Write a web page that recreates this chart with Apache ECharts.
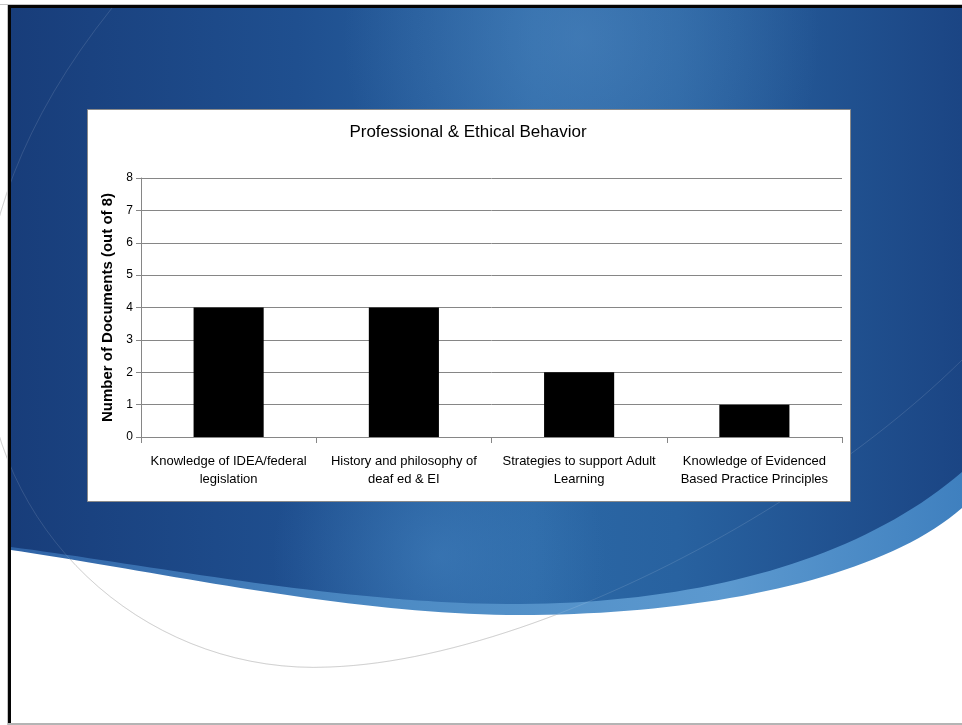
<!DOCTYPE html>
<html>
<head>
<meta charset="utf-8">
<title>Professional &amp; Ethical Behavior</title>
<script src="https://cdn.jsdelivr.net/npm/echarts@6/dist/echarts.min.js"></script>
<style>
  html, body { margin: 0; padding: 0; background: #ffffff; }
  #chart { width: 962px; height: 725px; }
</style>
</head>
<body>
<div id="chart"></div>
<script>
// Chart content
const chartTitle = 'Professional & Ethical Behavior';
const yAxisTitle = 'Number of Documents (out of 8)';
const categories = [
  'Knowledge of IDEA/federal\nlegislation',
  'History and philosophy of\ndeaf ed & EI',
  'Strategies to support Adult\nLearning',
  'Knowledge of Evidenced\nBased Practice Principles'
];
const documentCounts = [4, 4, 2, 1];
const yTicks = { min: 0, max: 8, step: 1 };

const FONT = '"Liberation Sans", Arial, sans-serif';

// Sample a cubic bezier into a list of points for polygon outlines
function cubic(p0, p1, p2, p3, n) {
  const pts = [];
  for (let i = 0; i <= n; i++) {
    const t = i / n, u = 1 - t;
    pts.push([
      u * u * u * p0[0] + 3 * u * u * t * p1[0] + 3 * u * t * t * p2[0] + t * t * t * p3[0],
      u * u * u * p0[1] + 3 * u * u * t * p1[1] + 3 * u * t * t * p2[1] + t * t * t * p3[1]
    ]);
  }
  return pts;
}
function chain(segs) {
  let out = [];
  segs.forEach((s, i) => { out = out.concat(i ? s.slice(1) : s); });
  return out;
}

// Slide backdrop: swoosh edges (left to right)
const bandLower = chain([
  cubic([11, 550], [150, 570], [350, 615], [520, 615], 40),
  cubic([520, 615], [700, 615], [880, 580], [962, 508], 40)
]);
const bandUpper = chain([
  cubic([11, 547], [150, 565], [350, 605], [520, 604], 40),
  cubic([520, 604], [700, 603], [860, 560], [962, 472], 40)
]);
const bandShape = [[11, 8], [962, 8]].concat(bandLower.slice().reverse());
const darkShape = [[11, 8], [962, 8]].concat(bandUpper.slice().reverse());

// Thin decorative loop crossing the slide
const loopLine = chain([
  cubic([112, 8], [-170, 360], [60, 680], [330, 667], 50),
  cubic([330, 667], [520, 660], [800, 520], [962, 360], 50)
]);

const LG = echarts.graphic.LinearGradient;
const RG = echarts.graphic.RadialGradient;

const chart = echarts.init(document.getElementById('chart'), null, { renderer: 'canvas' });

chart.setOption({
  animation: false,
  backgroundColor: '#ffffff',
  graphic: {
    elements: [
      // faint loop on the white part
      { type: 'polyline', shape: { points: loopLine }, style: { stroke: 'rgba(150,150,150,0.5)', lineWidth: 1, fill: null } },
      // light blue lower band of the swoosh
      {
        type: 'polygon', shape: { points: bandShape },
        style: { fill: new LG(0, 0, 1, 0, [
          { offset: 0, color: '#2f63a6' },
          { offset: 0.4, color: '#4d8bc4' },
          { offset: 0.75, color: '#5c99cf' },
          { offset: 1, color: '#3f80bf' }
        ]) }
      },
      // main dark blue field
      {
        type: 'polygon', shape: { points: darkShape },
        style: { fill: new LG(0, 0, 1, 0, [
          { offset: 0, color: '#183d7a' },
          { offset: 0.3, color: '#1f4f8f' },
          { offset: 0.55, color: '#2b67a5' },
          { offset: 0.7, color: '#2862a0' },
          { offset: 1, color: '#1b4584' }
        ]) }
      },
      // soft highlights inside the blue field
      {
        type: 'polygon', shape: { points: darkShape },
        style: { fill: new RG(0.6, 0.05, 0.4, [
          { offset: 0, color: 'rgba(95,150,205,0.4)' },
          { offset: 1, color: 'rgba(95,150,205,0)' }
        ]) }
      },
      {
        type: 'polygon', shape: { points: darkShape },
        style: { fill: new RG(0.45, 0.92, 0.28, [
          { offset: 0, color: 'rgba(90,160,220,0.32)' },
          { offset: 1, color: 'rgba(90,160,220,0)' }
        ]) }
      },
      // loop seen through the blue
      { type: 'polyline', shape: { points: loopLine }, style: { stroke: 'rgba(255,255,255,0.12)', lineWidth: 1, fill: null } },
      // slide frame
      { type: 'rect', shape: { x: 0, y: 4, width: 962, height: 1 }, style: { fill: '#c4c4c4' } },
      { type: 'rect', shape: { x: 8, y: 5, width: 954, height: 3 }, style: { fill: '#050505' } },
      { type: 'rect', shape: { x: 7, y: 4, width: 1, height: 721 }, style: { fill: '#c4c4c4' } },
      { type: 'rect', shape: { x: 8, y: 5, width: 3, height: 720 }, style: { fill: '#050505' } },
      { type: 'rect', shape: { x: 8, y: 723, width: 954, height: 2 }, style: { fill: '#b4b4b4' } },
      // white chart panel
      { type: 'rect', shape: { x: 87.5, y: 109.5, width: 763, height: 392 }, style: { fill: '#ffffff', stroke: '#8a8a8a', lineWidth: 1 } }
    ]
  },
  title: {
    text: chartTitle,
    left: 468,
    top: 124,
    textAlign: 'center',
    padding: 0,
    textStyle: { fontFamily: FONT, fontSize: 17, fontWeight: 'normal', color: '#000000' }
  },
  grid: {
    left: 141, right: 120, top: 178, bottom: 288,
    show: true, borderColor: '#868686', borderWidth: 1, backgroundColor: 'transparent'
  },
  xAxis: {
    type: 'category',
    data: categories,
    axisLine: { show: true, lineStyle: { color: '#868686', width: 1 } },
    axisTick: { show: true, length: 6, lineStyle: { color: '#868686' } },
    axisLabel: {
      interval: 0, margin: 15, color: '#000000',
      fontFamily: FONT, fontSize: 13, lineHeight: 18
    },
    splitLine: { show: false }
  },
  yAxis: {
    type: 'value',
    min: yTicks.min, max: yTicks.max, interval: yTicks.step,
    name: yAxisTitle,
    nameLocation: 'middle',
    nameGap: 26,
    nameTextStyle: { fontFamily: FONT, fontSize: 15, fontWeight: 'bold', color: '#000000' },
    axisLine: { show: true, lineStyle: { color: '#868686', width: 1 } },
    axisTick: { show: true, length: 5, lineStyle: { color: '#868686' } },
    axisLabel: { margin: 8, color: '#000000', fontFamily: FONT, fontSize: 12 },
    splitLine: { show: true, lineStyle: { color: '#868686', width: 1 } }
  },
  series: [{
    type: 'bar',
    data: documentCounts,
    barWidth: '40%',
    itemStyle: { color: '#000000' }
  }]
});
</script>
</body>
</html>
